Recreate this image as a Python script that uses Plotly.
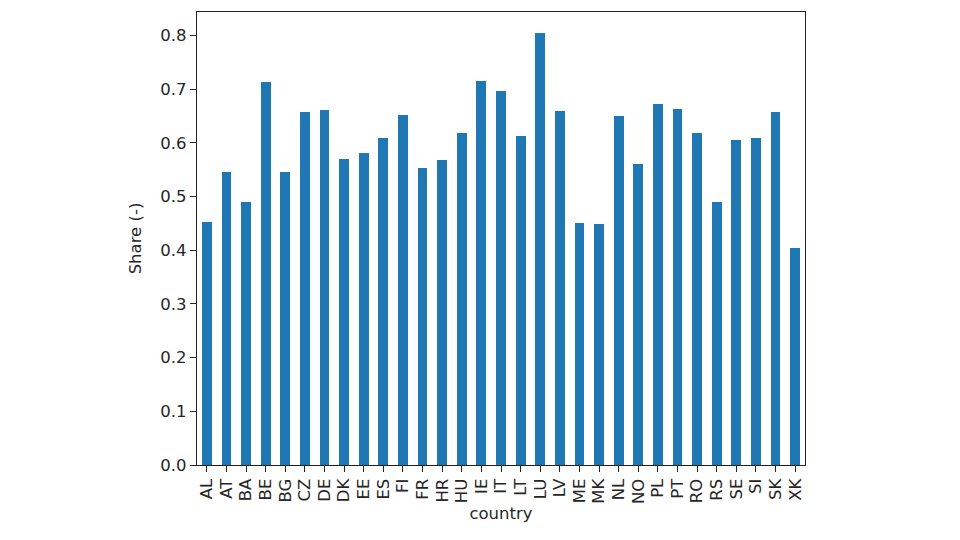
import plotly.graph_objects as go

countries = ['AL', 'AT', 'BA', 'BE', 'BG', 'CZ', 'DE', 'DK', 'EE', 'ES', 'FI', 'FR', 'HR', 'HU',
             'IE', 'IT', 'LT', 'LU', 'LV', 'ME', 'MK', 'NL', 'NO', 'PL', 'PT', 'RO', 'RS', 'SE',
             'SI', 'SK', 'XK']
share = [0.452, 0.545, 0.490, 0.714, 0.545, 0.657, 0.662, 0.570, 0.581, 0.609, 0.652, 0.554,
         0.568, 0.618, 0.716, 0.696, 0.613, 0.805, 0.659, 0.451, 0.449, 0.650, 0.561, 0.673,
         0.664, 0.618, 0.490, 0.606, 0.609, 0.657, 0.405]
y_ticks = [0.0, 0.1, 0.2, 0.3, 0.4, 0.5, 0.6, 0.7, 0.8]

fig = go.Figure()
fig.add_trace(go.Bar(
    x=countries,
    y=share,
    width=0.5,
    marker=dict(color='#1f77b4', line=dict(width=0)),
))

# matplotlib-like frame, outside ticks
axis_style = dict(
    showline=True, linecolor='#222', linewidth=1.2, mirror=True,
    ticks='outside', ticklen=6, tickwidth=1.2, tickcolor='#222',
    showgrid=False, zeroline=False,
    tickfont=dict(size=16.5, color='#262626'),
)

# the page body adds 8px margin, so shift plot margins accordingly
fig.update_layout(
    template='none',
    width=960,
    height=540,
    paper_bgcolor='white',
    plot_bgcolor='white',
    font=dict(family='DejaVu Sans', size=16.5, color='#262626'),
    margin=dict(l=189, r=163, t=4, b=83),
    bargap=0,
    showlegend=False,
    xaxis=dict(axis_style, range=[-0.5, 30.5], tickangle=-90,
               tickmode='array', tickvals=countries, ticktext=countries,
               title=dict(text='country', standoff=4, font=dict(size=16.5))),
    yaxis=dict(axis_style, range=[0, 0.844], tickvals=y_ticks, tickformat='.1f',
               title=dict(text='Share (-)', standoff=14, font=dict(size=16.5))),
)

fig.write_html("out.html")
